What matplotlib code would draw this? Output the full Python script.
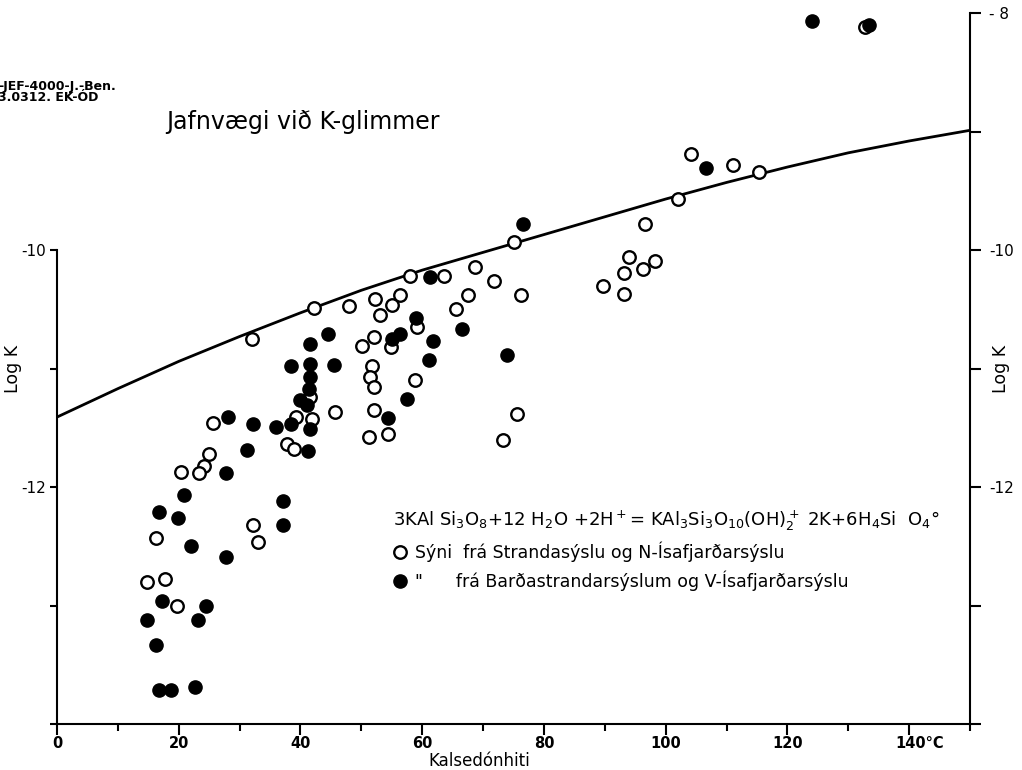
import matplotlib.pyplot as plt
from matplotlib.lines import Line2D
from matplotlib.transforms import blended_transform_factory

# Jafnvægislína (log K sem fall af kalsedónhita)
curve_t = [0, 10, 20, 30, 40, 50, 60, 70, 80, 90, 100, 110, 120, 130, 140, 150]
curve_logk = [-11.41, -11.17, -10.94, -10.73, -10.53, -10.34, -10.17, -10.02,
              -9.87, -9.72, -9.57, -9.43, -9.30, -9.18, -9.08, -8.99]

# Sýni frá Strandasýslu og N-Ísafjarðarsýslu (opnir hringir)
open_t = [32.1, 42.2, 47.9, 52.2, 55.0, 56.3, 53.0, 58.0, 63.6, 68.6, 71.8, 76.2,
          67.5, 65.5, 75.1, 59.1, 54.8, 52.0, 50.1, 51.7, 51.4, 52.1, 58.8, 52.0,
          54.3, 51.2, 45.6, 41.6, 39.3, 41.9, 37.8, 39.0, 25.7, 24.9, 24.1, 23.4,
          20.3, 32.2, 33.1, 16.2, 14.8, 17.8, 19.7, 75.5, 73.3, 96.6, 102.1, 94.0,
          98.2, 96.3, 93.2, 89.7, 93.2, 104.1, 111.1, 115.3, 132.8]
open_logk = [-10.75, -10.49, -10.47, -10.41, -10.46, -10.38, -10.55, -10.22, -10.22,
             -10.14, -10.26, -10.38, -10.38, -10.50, -9.93, -10.65, -10.82, -10.73,
             -10.81, -10.98, -11.07, -11.16, -11.10, -11.35, -11.55, -11.58, -11.37,
             -11.24, -11.41, -11.43, -11.64, -11.68, -11.46, -11.72, -11.82, -11.88,
             -11.87, -12.32, -12.46, -12.43, -12.80, -12.78, -13.00, -11.38, -11.60,
             -9.78, -9.57, -10.06, -10.09, -10.16, -10.19, -10.30, -10.37, -9.19,
             -9.28, -9.34, -8.12]

# Sýni frá Barðastrandarsýslum og V-Ísafjarðarsýslu (fylltir hringir)
filled_t = [76.5, 61.3, 66.6, 58.9, 61.7, 61.1, 56.4, 55.0, 44.6, 41.5, 38.4, 41.5,
            45.5, 41.5, 41.4, 39.9, 41.1, 74.0, 57.5, 54.3, 38.5, 41.5, 35.9, 32.2,
            28.1, 31.2, 27.8, 41.2, 20.9, 16.8, 19.9, 37.1, 37.2, 22.0, 27.8, 17.2,
            24.5, 14.8, 23.2, 16.3, 16.7, 18.8, 22.6, 106.6, 124.1, 133.4]
filled_logk = [-9.78, -10.23, -10.67, -10.57, -10.77, -10.93, -10.71, -10.75, -10.71,
               -10.79, -10.98, -10.96, -10.97, -11.07, -11.17, -11.27, -11.31, -10.89,
               -11.26, -11.42, -11.47, -11.51, -11.49, -11.47, -11.41, -11.69, -11.88,
               -11.70, -12.07, -12.21, -12.26, -12.12, -12.32, -12.50, -12.59, -12.96,
               -13.00, -13.12, -13.12, -13.33, -13.71, -13.71, -13.69, -9.31, -8.07,
               -8.10]

x_ticks = [0, 20, 40, 60, 80, 100, 120, 140]
x_labels = ["0", "20", "40", "60", "80", "100", "120", ""]
left_ticks = [-14, -13, -12, -11, -10]
left_labels = ["", "", "-12", "", "-10"]
right_ticks = [-14, -13, -12, -11, -10, -9, -8]
right_labels = ["", "", "-12", "", "-10", "", "- 8"]

equation = (r"3KAl Si$_3$O$_8$+12 H$_2$O +2H$^+$= KAl$_3$Si$_3$O$_{10}$(OH)$_2^+$"
            r" 2K+6H$_4$Si  O$_4$°")
label_open = "Sýni  frá Strandasýslu og N-Ísafjarðarsýslu"
label_filled = "\"      frá Barðastrandarsýslum og V-Ísafjarðarsýslu"

plt.rcParams["font.family"] = ["DejaVu Sans"]
fig = plt.figure(figsize=(10.22, 7.70), dpi=100)
ax = fig.add_axes([57 / 1022, 46 / 770, 913 / 1022, 711 / 770])
ax2 = ax.twinx()

ax.plot(curve_t, curve_logk, color="black", lw=2.0, zorder=2)
ax.plot(open_t, open_logk, ls="none", marker="o", ms=9, mfc="white",
        mec="black", mew=1.7, zorder=3)
ax.plot(filled_t, filled_logk, ls="none", marker="o", ms=9.5, mfc="black",
        mec="black", mew=1.0, zorder=4)

ax.set_xlim(0, 150)
ax.set_ylim(-14, -8)
ax2.set_ylim(-14, -8)

# Ásar
for a in (ax, ax2):
    a.spines["top"].set_visible(False)
ax.spines["right"].set_visible(False)
ax2.spines["left"].set_visible(False)
ax2.spines["bottom"].set_visible(False)
ax.spines["left"].set_bounds(-14, -10)
for sp in (ax.spines["left"], ax.spines["bottom"], ax2.spines["right"]):
    sp.set_linewidth(1.5)

ax.set_xticks(x_ticks)
ax.set_xticklabels(x_labels, fontsize=10.5, fontweight="bold")
ax.set_xticks([10, 30, 50, 70, 90, 110, 130, 150], minor=True)
ax.tick_params(axis="x", which="major", direction="out", length=8, width=1.5, pad=1)
ax.tick_params(axis="x", which="minor", direction="out", length=5, width=1.5)
trans = blended_transform_factory(ax.transData, ax.transAxes)
ax.text(137.8, -0.0175, "140°C", transform=trans, ha="left", va="top",
        fontsize=10.5, fontweight="bold")

ax.set_yticks(left_ticks)
ax.set_yticklabels(left_labels, fontsize=11)
ax.tick_params(axis="y", direction="out", length=5, width=1.5, pad=3)
ax2.set_yticks(right_ticks)
ax2.set_yticklabels(right_labels, fontsize=11)
ax2.tick_params(axis="y", direction="out", length=8, width=1.5, pad=6)

ax.set_xlabel("Kalsedónhiti", fontsize=12, labelpad=0)
ax.xaxis.set_label_coords(0.462, -0.039)
ax.set_ylabel("Log K", fontsize=12.5)
ax.yaxis.set_label_coords(-0.038, 0.5)
ax2.set_ylabel("Log K", fontsize=12.5, rotation=90)
ax2.yaxis.set_label_coords(1.024, 0.5)

# Skýringar
handles = [
    Line2D([], [], ls="none", marker="o", ms=9, mfc="white", mec="black", mew=1.7),
    Line2D([], [], ls="none", marker="o", ms=9.5, mfc="black", mec="black"),
]
leg = ax.legend(handles, [label_open, label_filled], title=equation,
                loc="upper left", bbox_to_anchor=(0.351, 0.325), frameon=False,
                fontsize=12.5, title_fontsize=13, alignment="left",
                handlelength=0.8, handletextpad=0.45, labelspacing=0.5)

fig.text(166 / 1022, 1 - 129 / 770, "Jafnvægi við K-glimmer", fontsize=17,
         va="baseline")
fig.text(-0.002, 1 - 90 / 770, "-JEF-4000-J.-Ben.", fontsize=9, fontweight="bold")
fig.text(-0.002, 1 - 101 / 770, "3.0312. EK-ÓD", fontsize=9, fontweight="bold")

fig.savefig("out.png", dpi=100)
